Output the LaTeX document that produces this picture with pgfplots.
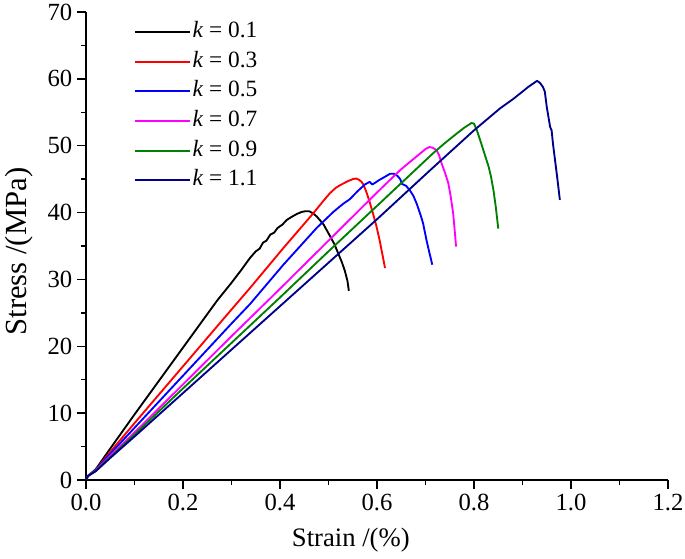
\documentclass[border=0pt]{standalone}
\usepackage{fontspec}
\setmainfont{Liberation Serif}
\usepackage{pgfplots}
\pgfplotsset{compat=1.18}
\definecolor{cnavy}{RGB}{0,0,139}
\definecolor{cgreen}{RGB}{0,128,0}
\definecolor{cmag}{RGB}{255,0,255}
\begin{document}
\begin{tikzpicture}
\begin{axis}[
  scale only axis, width=436.5pt, height=351pt,
  anchor=origin, at={(0,0)},
  xmin=0, xmax=1.2, ymin=0, ymax=70,
  axis x line=bottom, axis y line=left,
  axis line style={-, line width=1.1pt},
  every tick/.style={line width=1.1pt, black},
  tick align=outside,
  major tick length=6.75pt, minor tick length=3.5pt,
  xtick={0,0.2,...,1.2}, ytick={0,10,...,70},
  minor x tick num=1, minor y tick num=1,
  /pgf/number format/assume math mode=true,
  xticklabel style={/pgf/number format/fixed, /pgf/number format/precision=1, /pgf/number format/fixed zerofill},
  tick label style={font=\fontsize{18.5}{20}\selectfont},
  xlabel={Strain /(\%)}, ylabel={Stress /(MPa)},
  xlabel style={font=\fontsize{20}{22}\selectfont, at={(axis description cs:0.455,-0.128)}, anchor=center},
  ylabel style={font=\fontsize{23}{25}\selectfont, at={(axis description cs:-0.115,0.488)}, anchor=center, rotate=0},
  legend cell align=left,
  legend image code/.code={\draw[#1, line width=1.5pt] (0pt,0pt) -- (41pt,0pt);},
  legend style={at={(axis description cs:0.075,0.99)}, anchor=north west, draw=none, fill=none,
    font=\fontsize{17.5}{19}\selectfont, row sep=3.2pt,
    nodes={inner sep=1.5pt, text height=12pt, text depth=4pt}},
  every axis plot/.append style={line width=1.4pt, line join=round},
]
\addplot[black] coordinates {(0,0) (0.004,0.6) (0.02,1.6) (0.05,4.7) (0.1,9.8) (0.15,14.8) (0.2,19.8) (0.25,24.8) (0.27,26.8) (0.3,29.5) (0.32,31.4) (0.338,33.2) (0.35,34.2) (0.358,34.6) (0.365,35.5) (0.372,35.8) (0.38,36.7) (0.388,37.0) (0.395,37.7) (0.405,38.2) (0.414,38.9) (0.425,39.4) (0.435,39.8) (0.445,40.1) (0.452,40.2) (0.46,40.2) (0.468,39.9) (0.476,39.4) (0.49,38.2) (0.503,36.5) (0.512,35.3) (0.52,33.9) (0.528,32.5) (0.534,31.2) (0.539,29.8) (0.542,28.3)};
\addlegendentry{\textit{k} = 0.1}
\addplot[red] coordinates {(0,0) (0.004,0.6) (0.02,1.5) (0.05,4.2) (0.1,8.5) (0.2,17.0) (0.3,25.5) (0.338,28.7) (0.407,34.7) (0.4687,39.9) (0.48,40.9) (0.49,41.8) (0.503,42.9) (0.515,43.7) (0.524,44.1) (0.54,44.7) (0.55,45.0) (0.557,45.1) (0.563,44.9) (0.568,44.6) (0.572,44.2) (0.579,42.9) (0.5856,41.4) (0.592,39.8) (0.599,37.9) (0.605,36.0) (0.611,33.8) (0.6165,31.7)};
\addlegendentry{\textit{k} = 0.3}
\addplot[blue] coordinates {(0,0) (0.004,0.6) (0.02,1.5) (0.05,3.9) (0.1,7.8) (0.2,15.6) (0.3,23.4) (0.338,26.3) (0.407,32.2) (0.4756,37.7) (0.51,40.1) (0.53,41.3) (0.544,42.0) (0.56,43.2) (0.575,44.2) (0.585,44.6) (0.59,44.2) (0.595,44.4) (0.603,44.8) (0.615,45.3) (0.627,45.8) (0.635,45.8) (0.642,45.5) (0.648,45.0) (0.651,44.3) (0.66,44.0) (0.668,43.3) (0.675,42.5) (0.682,41.3) (0.69,39.6) (0.695,38.4) (0.702,35.9) (0.708,34.0) (0.714,32.2)};
\addlegendentry{\textit{k} = 0.5}
\addplot[cmag] coordinates {(0,0) (0.004,0.6) (0.02,1.4) (0.05,3.6) (0.1,7.1) (0.2,14.3) (0.3,21.5) (0.4,28.6) (0.5,35.8) (0.6,43.0) (0.647,46.3) (0.66,47.1) (0.675,48.0) (0.69,48.9) (0.7,49.5) (0.708,49.8) (0.715,49.7) (0.723,49.3) (0.728,48.6) (0.733,47.4) (0.74,46.0) (0.747,44.4) (0.752,42.4) (0.757,39.9) (0.76,37.5) (0.763,34.9)};
\addlegendentry{\textit{k} = 0.7}
\addplot[cgreen] coordinates {(0,0) (0.004,0.6) (0.02,1.4) (0.05,3.4) (0.1,6.8) (0.2,13.7) (0.3,20.5) (0.4,27.3) (0.5,34.2) (0.6,41.0) (0.716,48.9) (0.74,50.4) (0.764,51.8) (0.78,52.7) (0.795,53.4) (0.8,53.3) (0.806,52.3) (0.812,51.0) (0.819,49.4) (0.83,46.9) (0.835,45.4) (0.84,43.4) (0.845,40.8) (0.85,37.6)};
\addlegendentry{\textit{k} = 0.9}
\addplot[cnavy] coordinates {(0,0) (0.004,0.6) (0.02,1.3) (0.05,3.3) (0.1,6.5) (0.2,13.0) (0.3,19.5) (0.4,26.0) (0.5,32.5) (0.6,39.0) (0.709,46.3) (0.8,52.3) (0.854,55.6) (0.881,57.0) (0.9,58.1) (0.912,58.8) (0.922,59.3) (0.93,59.7) (0.936,59.4) (0.942,58.8) (0.946,58.1) (0.95,55.8) (0.957,52.8) (0.96,52.3) (0.963,50.2) (0.967,47.9) (0.972,45.0) (0.977,41.9)};
\addlegendentry{\textit{k} = 1.1}
\end{axis}
\pgfresetboundingbox
\path[use as bounding box] (-64.5pt,-59.25pt) rectangle (449.25pt,360pt);
\end{tikzpicture}
\end{document}
